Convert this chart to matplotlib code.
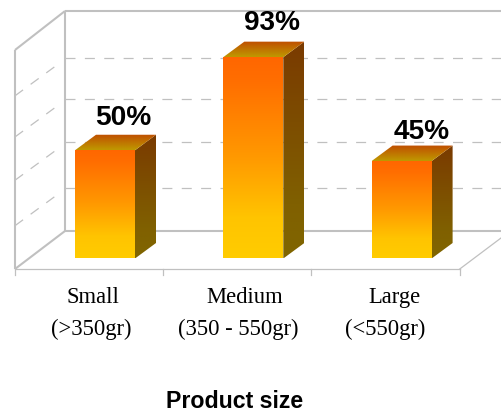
import numpy as np
import matplotlib
matplotlib.use('Agg')
import matplotlib.pyplot as plt
from matplotlib.colors import LinearSegmentedColormap
from matplotlib.patches import Polygon

sizes = ['Small', 'Medium', 'Large']
ranges = ['(>350gr)', '(350 - 550gr)', '(<550gr)']
shares = [50, 93, 45]
share_labels = ['50%', '93%', '45%']
grid_levels = [20, 41, 61, 80]
axis_title = 'Product size'

W, H = 501, 412
# x: one unit per category, y: percent, both mapped on to the whole figure
CAT_PX = 148.3
PCT_PX = 2.165
X0_PX = 89.0
Y0_PX = 258.5


def xd(px):
    return (px - X0_PX) / CAT_PX


def yd(px):
    return (Y0_PX - px) / PCT_PX


fig = plt.figure(figsize=(W / 100, H / 100), dpi=100)
ax = fig.add_axes([0, 0, 1, 1])
ax.axis('off')

wall = '#C0C0C0'
serif = 'Liberation Serif'
sans = 'Liberation Sans'

# back wall, side wall and floor edges
wall_left, wall_back = xd(15), xd(65)
wall_top_front, wall_top_back = yd(50), yd(11)
floor_front, floor_back = yd(269), yd(231)
right_end = xd(501)
edges = [
    ([wall_left, wall_left], [floor_front, wall_top_front]),
    ([wall_left, wall_back], [wall_top_front, wall_top_back]),
    ([wall_back, wall_back], [wall_top_back, floor_back]),
    ([wall_back, right_end], [wall_top_back, wall_top_back]),
    ([wall_back, right_end], [floor_back, floor_back]),
    ([wall_left, wall_back], [floor_front, floor_back]),
]
for xs, ys in edges:
    ax.plot(xs, ys, color=wall, lw=1.5, solid_capstyle='butt', zorder=1)

# front edge of the floor with category ticks
tick_x = [-0.5, 0.5, 1.5, 2.5]
ax.plot([wall_left, tick_x[-1]], [floor_front, floor_front], color=wall, lw=0.9, zorder=1)
ax.plot([tick_x[-1], right_end], [floor_front, yd(238)], color=wall, lw=0.9, zorder=1)
for t in tick_x:
    ax.plot([t, t], [floor_front, yd(275)], color=wall, lw=0.9, zorder=1)

# dashed gridlines on both walls
for g in grid_levels:
    y_back = floor_back + g
    ax.plot([wall_back, right_end], [y_back, y_back], color=wall, lw=0.9,
            ls=(0, (8, 7.5)), zorder=1)
    ax.plot([wall_left, xd(58)], [floor_front + g, y_back - 3], color=wall, lw=0.9,
            ls=(0, (8, 7.5)), zorder=1)

front_cmap = LinearSegmentedColormap.from_list(
    'front', [(0, '#FF6600'), (0.12, '#FF6E00'), (0.5, '#FF9900'), (0.8, '#FFC400'), (1, '#FFCC00')])
side_cmap = LinearSegmentedColormap.from_list(
    'side', [(0, '#7A3A00'), (0.75, '#806000'), (1, '#806600')])
top_cmap = LinearSegmentedColormap.from_list('top', ['#BF4D00', '#BF9900'])
ramp = np.linspace(0, 1, 256).reshape(-1, 1)

bar_shift = 16 / CAT_PX
half_w = 30 / CAT_PX
depth_x = 21 / CAT_PX
depth_y = 15.5 / PCT_PX


def gradient_poly(points, cmap, zorder):
    pts = np.array(points)
    im = ax.imshow(ramp, cmap=cmap, aspect='auto', origin='upper', zorder=zorder,
                   extent=[pts[:, 0].min(), pts[:, 0].max(), pts[:, 1].min(), pts[:, 1].max()])
    clip = Polygon(pts, closed=True, transform=ax.transData, facecolor='none', edgecolor='none')
    ax.add_patch(clip)
    im.set_clip_path(clip)


for i, v in enumerate(shares):
    left = i + bar_shift - half_w
    right = i + bar_shift + half_w
    gradient_poly([(left, 0), (right, 0), (right, v), (left, v)], front_cmap, 3)
    gradient_poly([(right, 0), (right + depth_x, depth_y), (right + depth_x, v + depth_y), (right, v)],
                  side_cmap, 3)
    gradient_poly([(left, v), (right, v), (right + depth_x, v + depth_y), (left + depth_x, v + depth_y)],
                  top_cmap, 3)

# value labels sit above the top face of each bar
label_dx = [18, 19, 20]
label_dy = [25, 27, 22]
for i, v in enumerate(shares):
    ax.text(i + bar_shift + label_dx[i] / CAT_PX, v + label_dy[i] / PCT_PX, share_labels[i],
            ha='center', va='baseline', fontsize=20.2, fontweight='bold', family=sans,
            color='black', zorder=5)

# two-line category labels
size_dx = [4, 7, 9]
range_dx = [2, 1, 0]
for i in range(3):
    ax.text(i + size_dx[i] / CAT_PX, yd(303), sizes[i], ha='center', va='baseline',
            fontsize=16.3, family=serif, color='black')
    ax.text(i + range_dx[i] / CAT_PX, yd(335), ranges[i], ha='center', va='baseline',
            fontsize=16.3, family=serif, color='black')

ax.text(xd(235), yd(408), axis_title, ha='center', va='baseline', fontsize=16.7,
        fontweight='bold', family=sans, color='black')

ax.set_xlim(xd(0), xd(W))
ax.set_ylim(yd(H), yd(0))

fig.savefig('out.png', dpi=100)
